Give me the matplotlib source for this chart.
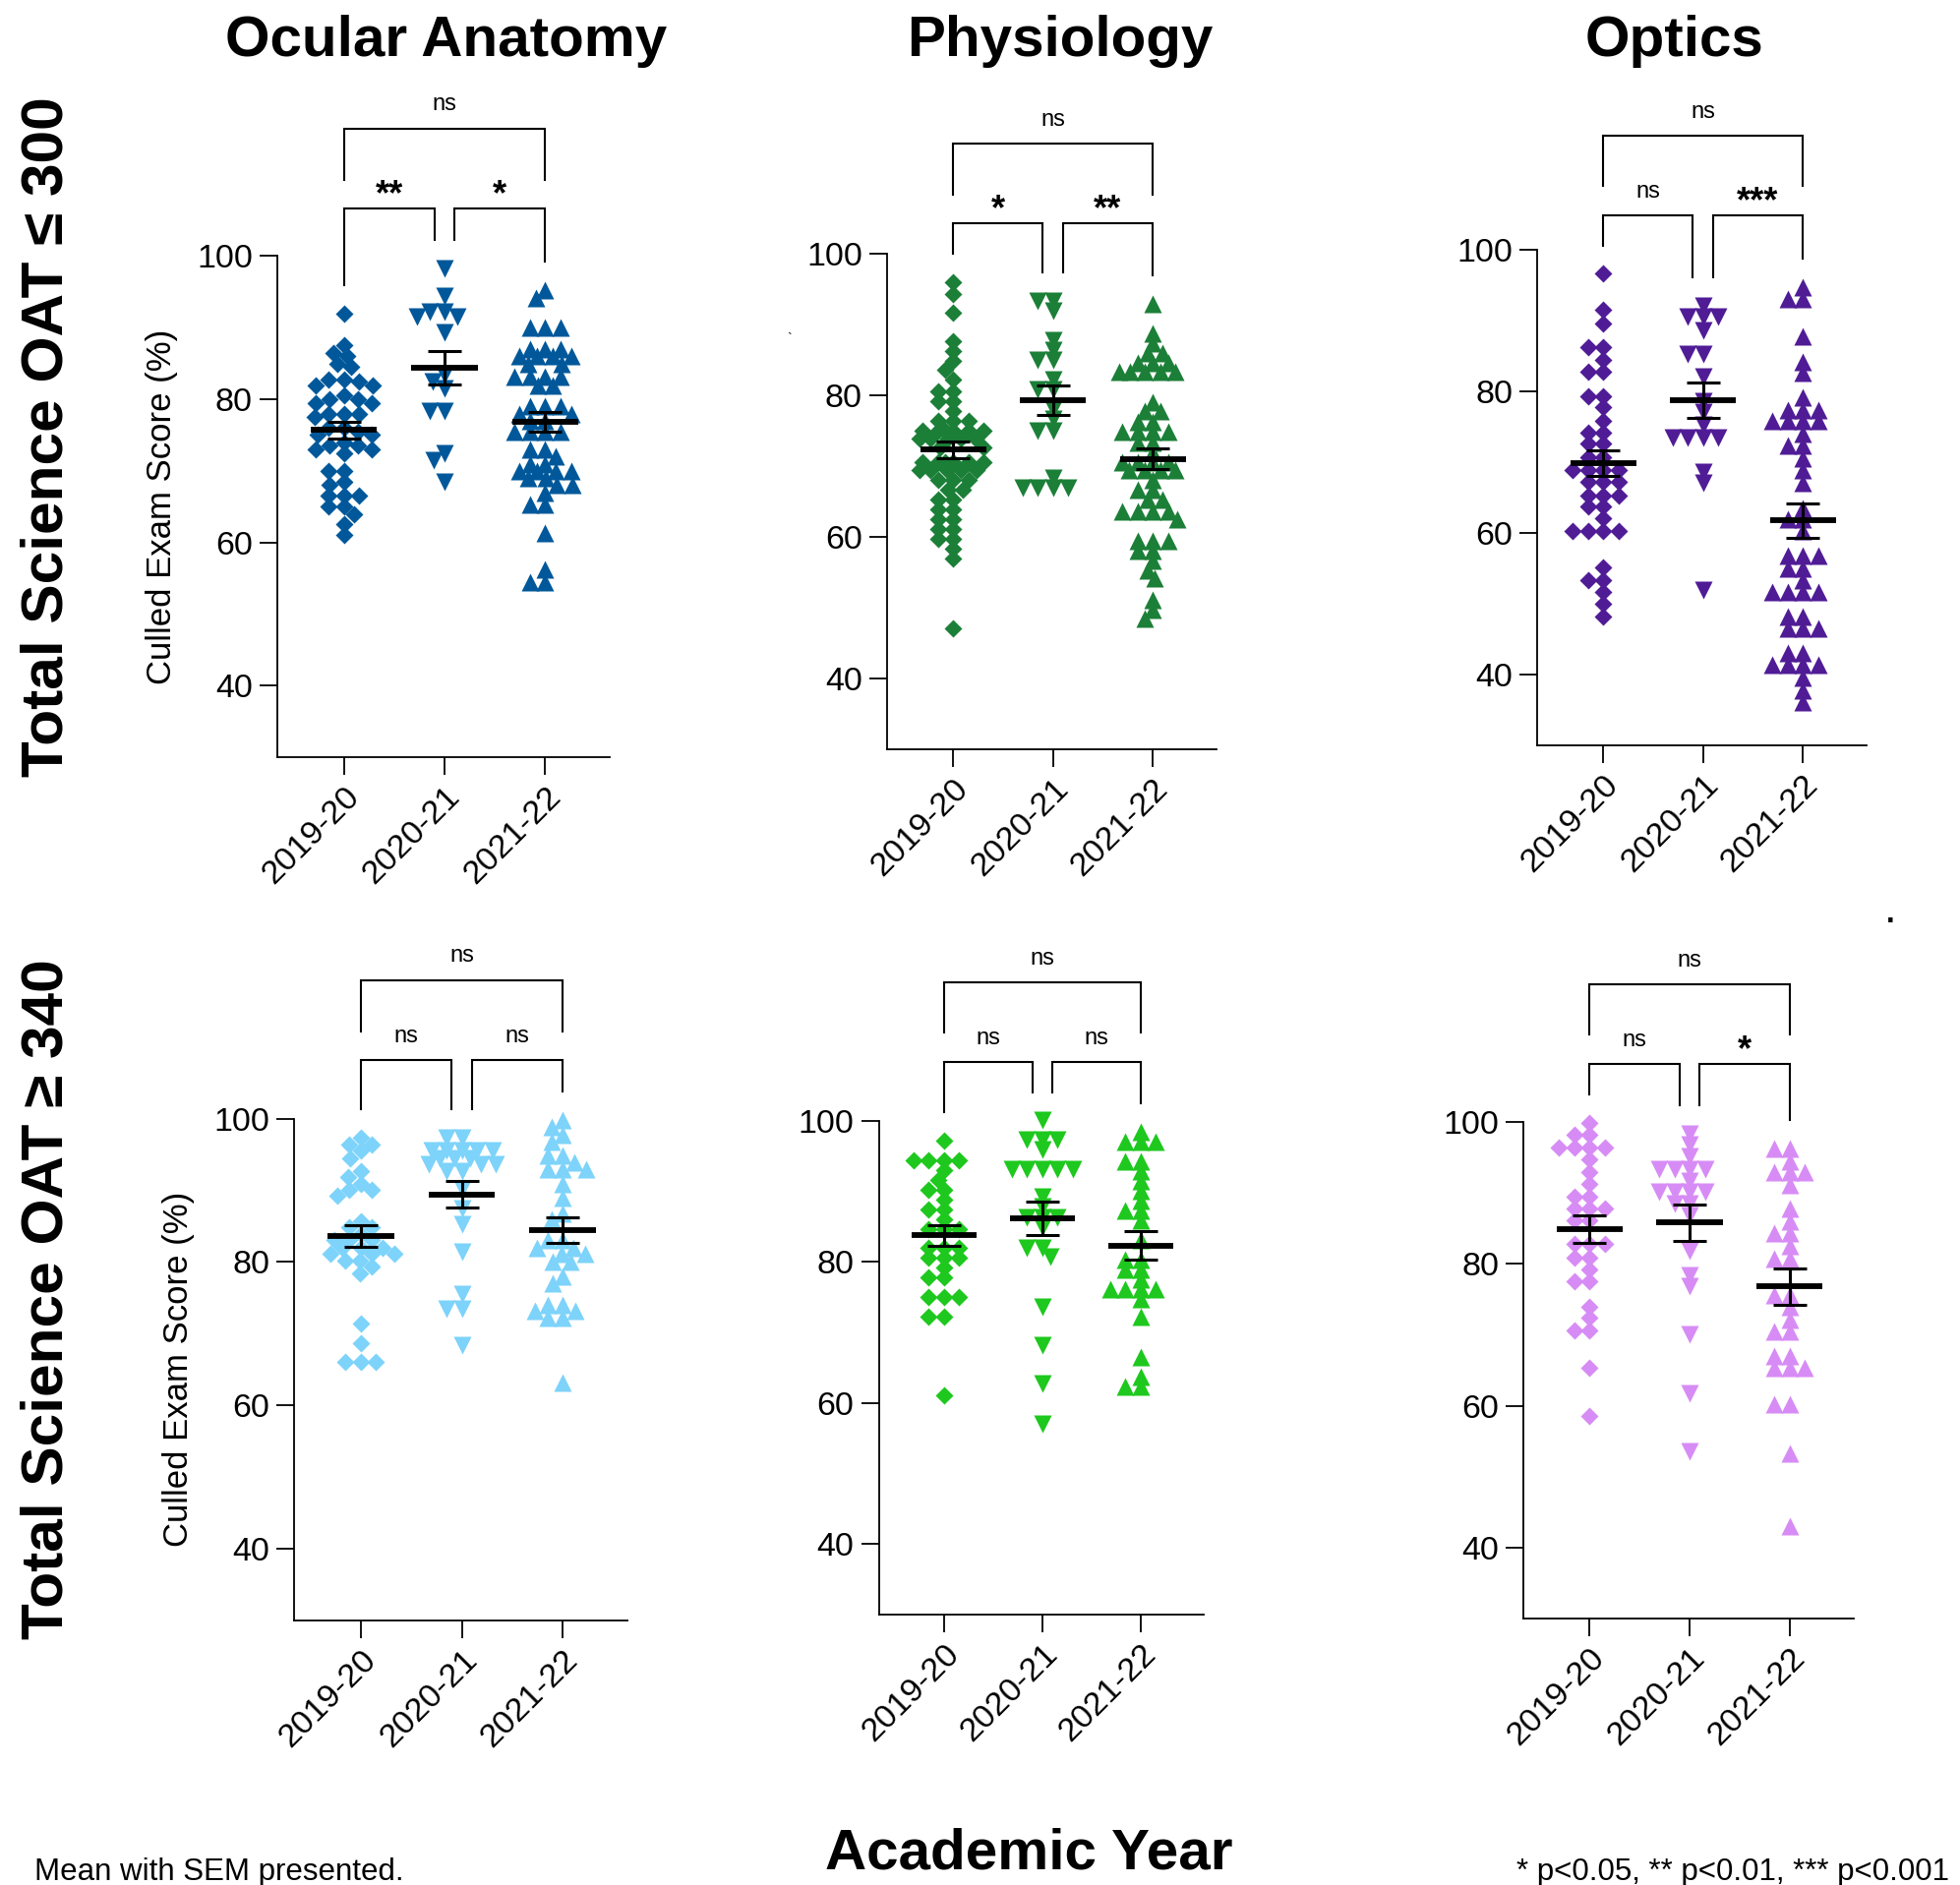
import numpy as np
import matplotlib.pyplot as plt

plt.rcParams['font.family'] = ['Liberation Sans', 'DejaVu Sans']

years = ["2019-20", "2020-21", "2021-22"]
subjects = ["Ocular Anatomy", "Physiology", "Optics"]
row_labels = ["Total Science OAT ≤ 300", "Total Science OAT ≥ 340"]

# OAT <= 300
anat_low_1920 = [92.0, 87.5, 86.5, 86.0, 85.0, 84.5, 82.7, 82.7, 82.5, 82.0, 82.0, 80.5, 80.0, 80.0,
                 79.5, 79.5, 78.0, 78.0, 78.0, 77.5, 76.0, 76.0, 75.5, 75.0, 75.0, 74.0, 73.5, 73.5,
                 73.0, 73.0, 72.5, 70.0, 70.0, 68.5, 68.0, 66.5, 66.5, 66.5, 65.0, 65.0, 64.0, 62.5, 61.0]
anat_low_2021 = [98.3, 94.4, 92.3, 92.3, 91.5, 91.5, 89.4, 83.4, 82.5, 81.5, 78.4, 78.4, 72.5, 71.5, 68.5]
anat_low_2122 = [95.3, 94.2] + [90.0]*3 + [87.0]*3 + [86.0]*4 + [85.0]*2 + [83.2]*4 + [82.0]*2 + \
                [79.0]*3 + [78.0]*2 + [77.0]*2 + [75.5]*4 + [73.0]*2 + [72.0] + [71.0]*2 + [70.0]*4 + \
                [69.0]*2 + [68.0]*2 + [67.0] + [65.3]*2 + [61.3, 56.3, 54.5, 54.5]

phys_low_1920 = [96.0, 94.3, 91.7, 87.6, 86.2, 84.8, 83.6, 82.2, 80.6, 80.6, 79.2, 79.2, 77.8] + \
                [76.4]*3 + [75.0]*6 + [73.9]*5 + [72.7]*2 + [70.6]*6 + [69.4]*5 + [68.0]*3 + \
                [66.7]*2 + [65.3]*2 + [63.9]*2 + [62.5]*2 + [61.1]*2 + [59.7]*2 + [58.3, 56.9, 47.1]
phys_low_2021 = [93.4, 93.4, 92.0, 87.8, 86.4, 85.0, 85.0, 82.2, 80.8, 80.8, 78.0, 76.6, 75.0, 75.0,
                 68.3, 66.9, 66.9, 66.9, 66.9]
phys_low_2122 = [92.9, 88.7, 87.3, 86.0, 86.0] + [84.6]*3 + [83.4]*5 + [79.0, 77.8, 77.8, 76.2, 76.2] + \
                [74.8]*4 + [73.4]*2 + [72.0] + [70.6]*4 + [69.4]*4 + [68.0] + [66.6]*2 + [65.3]*2 + \
                [63.6]*4 + [62.5] + [59.4]*3 + [58.0]*2 + [56.6, 55.3, 54.1, 51.1, 49.7, 48.5]

opt_low_1920 = [96.6, 91.5, 89.6, 86.3, 86.3, 84.4, 82.8, 82.8, 79.3, 79.3, 77.7, 75.8, 74.2, 74.2,
                72.6, 72.6, 70.7, 70.7] + [68.8]*4 + [67.2]*3 + [65.3]*3 + [63.7]*2 + [62.1] + \
               [60.2]*4 + [55.1, 53.3, 53.3, 51.6, 50.0, 48.1]
opt_low_2021 = [92.1, 90.5, 90.5, 90.5, 88.6, 85.3, 85.3, 82.1, 78.6, 77.0, 75.3, 73.5, 73.5, 73.5,
                73.5, 68.6, 67.0, 51.9]
opt_low_2122 = [94.7, 93.0, 93.0, 87.7, 84.2, 82.6, 79.1] + [77.4]*3 + [75.8]*4 + [74.0] + [72.3]*2 + \
               [70.5, 68.8, 67.0, 63.5] + [61.9]*2 + [60.2] + [56.7]*3 + [54.9]*2 + [53.3] + \
               [51.6]*4 + [48.1]*2 + [46.5]*3 + [43.0]*2 + [41.4]*4 + [39.5, 37.7, 36.0]

# OAT >= 340
anat_high_1920 = [97.3, 96.4, 96.4, 95.5, 94.5, 92.7, 91.9, 90.9, 90.0, 90.0, 89.2, 85.7, 84.8, 84.8,
                  83.9] + [83.0]*3 + [82.0]*3 + [81.1]*3 + [80.2]*2 + [79.3, 78.4, 71.4, 68.7] + [66.0]*3
anat_high_2021 = [97.3, 97.3] + [95.5]*5 + [94.5]*3 + [93.6]*3 + [92.7]*2 + \
                 [90.2, 87.5, 85.2, 81.4, 75.5, 73.4, 73.4, 68.4]
anat_high_2122 = [99.8, 98.9, 97.7, 96.8, 94.8, 94.8, 93.9, 93.0, 93.0, 93.0, 90.9, 88.9, 86.8, 85.9,
                  83.0, 83.0, 82.0, 82.0, 81.1, 81.1, 80.0, 80.0, 78.0, 77.0, 74.0, 74.0, 73.2, 73.2,
                  72.3, 72.3, 63.2]

phys_high_1920 = [97.2] + [94.4]*4 + [93.0, 91.7, 90.3, 90.3, 88.9, 87.5, 87.5, 86.1] + [84.7]*3 + \
                 [82.0]*3 + [80.6]*3 + [79.2, 77.8, 77.8] + [75.0]*3 + [72.2, 72.2, 61.1]
phys_high_2021 = [100.1] + [97.3]*3 + [95.9] + [93.1]*5 + [89.2, 87.8] + [86.4]*3 + \
                 [85.0, 82.0, 82.0, 80.8, 73.6, 68.2, 62.7, 57.1]
phys_high_2122 = [98.5] + [97.1]*3 + [94.3]*2 + [92.9, 91.5, 90.1, 88.7, 87.3, 87.3, 85.9, 83.1,
                  80.3, 80.3, 78.9, 78.9, 77.5] + [76.1]*4 + [74.7, 72.2, 66.6, 63.8, 62.4, 62.4]

opt_high_1920 = [99.9, 98.2, 98.2] + [96.4]*4 + [94.7, 93.0, 91.3, 89.5, 89.5] + [87.8]*3 + \
                [86.2]*2 + [82.8]*3 + [80.9]*2 + [79.2, 77.5, 77.5, 74.0, 72.4, 70.6, 70.6, 65.4, 58.6]
opt_high_2021 = [98.4, 96.8, 95.2] + [93.3]*4 + [91.7] + [90.1]*4 + [88.5]*2 + \
                [86.9, 81.8, 78.4, 76.8, 70.1, 61.8, 53.6]
opt_high_2122 = [96.3, 96.3, 94.5] + [92.9]*3 + [91.1, 87.8, 86.0, 84.3, 84.3, 82.5, 80.8, 80.8,
                 75.6, 75.6, 73.9, 72.2, 70.5, 70.5, 67.0, 67.0] + [65.3]*3 + [60.2]*2 + [53.3, 43.0]

groups = [
    [anat_low_1920, anat_low_2021, anat_low_2122],
    [phys_low_1920, phys_low_2021, phys_low_2122],
    [opt_low_1920, opt_low_2021, opt_low_2122],
    [anat_high_1920, anat_high_2021, anat_high_2122],
    [phys_high_1920, phys_high_2021, phys_high_2122],
    [opt_high_1920, opt_high_2021, opt_high_2122],
]
# significance: (1 vs 2, 2 vs 3, 1 vs 3)
signif = [
    ["**", "*", "ns"],
    ["*", "**", "ns"],
    ["ns", "***", "ns"],
    ["ns", "ns", "ns"],
    ["ns", "ns", "ns"],
    ["ns", "*", "ns"],
]
colors = ["#00589A", "#1C7F38", "#501C96", "#7DD3FA", "#1EC81E", "#D78CF5"]
markers = ["D", "v", "^"]
msizes = [9.4, 12.8, 12.8]

W, H = 1993, 1917
fig = plt.figure(figsize=(W / 100, H / 100), dpi=100)

# axes boxes in pixels: left, right, top(y=100), bottom(y=30)
boxes = [
    (282, 620, 260.5, 770),
    (902, 1237, 258, 762),
    (1563, 1898, 254, 757.5),
    (299, 638, 1137.5, 1648),
    (893.5, 1224, 1140, 1642),
    (1549, 1885, 1141, 1646),
]


def swarm(ypix, dx, dy, lim):
    # beeswarm with an elliptical footprint, width capped at +-lim pixels
    ys = np.asarray(ypix, dtype=float) * dx / dy
    d = dx
    order = np.argsort(-ys, kind="stable")
    xs = np.zeros(len(ys))
    placed = []
    for i in order:
        y = ys[i]
        near = [(xj, yj) for xj, yj in placed if abs(yj - y) < d]
        cands = [0.0]
        for xj, yj in near:
            w = np.sqrt(d * d - (yj - y) ** 2)
            cands += [xj - w, xj + w]
        cands = [c for c in cands if abs(c) <= lim]
        cands.sort(key=lambda c: (abs(c), c))
        found = False
        for c in cands:
            if all((c - xj) ** 2 + (y - yj) ** 2 >= d * d - 1e-6 for xj, yj in near):
                xs[i] = c
                found = True
                break
        if not found:
            grid = np.arange(-lim, lim + 0.5, 1.0)
            score = [min((c - xj) ** 2 + (y - yj) ** 2 for xj, yj in near) - 1e-3 * abs(c)
                     for c in grid]
            xs[i] = grid[int(np.argmax(score))]
        placed.append((xs[i], y))
    return xs


for k, (l, r, t, b) in enumerate(boxes):
    ax = fig.add_axes([l / W, 1 - b / H, (r - l) / W, (b - t) / H])
    ax.set_xlim(-0.66, 2.64)
    ax.set_ylim(30, 100)
    ppu_x = (r - l) / 3.3
    ppu_y = (b - t) / 70.0
    data = groups[k]
    for g, vals in enumerate(data):
        offs = swarm(np.asarray(vals) * ppu_y, 15.5, 10.0, 34.0) / ppu_x
        ax.plot(g + offs, vals, linestyle="none", marker=markers[g], ms=msizes[g],
                mfc=colors[k], mec="none", zorder=2, clip_on=False)
        m = np.mean(vals)
        sem = np.std(vals, ddof=1) / np.sqrt(len(vals))
        ax.plot([g - 0.33, g + 0.33], [m, m], color="black", lw=4.2, zorder=4,
                solid_capstyle="butt")
        ax.errorbar(g, m, yerr=sem, fmt="none", ecolor="black", elinewidth=2.2,
                    capsize=12, capthick=2.2, zorder=4)

    # significance brackets
    tops = [max(v) for v in data]
    lower = max(tops) + 8.3
    upper = lower + 11.2
    kw = dict(color="black", lw=1.5, clip_on=False, solid_joinstyle="miter")
    ax.plot([0, 0, 0.9, 0.9], [tops[0] + 4, lower, lower, tops[1] + 4], **kw)
    ax.plot([1.1, 1.1, 2, 2], [tops[1] + 4, lower, lower, tops[2] + 4], **kw)
    ax.plot([0, 0, 2, 2], [lower + 4.1, upper, upper, lower + 4.1], **kw)
    for (xc, yc), lab in zip([(0.45, lower + 3.4), (1.55, lower + 3.4), (1.0, upper + 3.4)],
                             signif[k]):
        if lab == "ns":
            ax.annotate(lab, (xc, yc), xytext=(0, -4.5), textcoords="offset points",
                        ha="center", va="baseline", fontsize=17, annotation_clip=False)
        else:
            ax.annotate(lab, (xc, yc), xytext=(0, -15), textcoords="offset points",
                        ha="center", va="baseline", fontsize=26, fontweight="bold",
                        annotation_clip=False)

    for s in ["top", "right"]:
        ax.spines[s].set_visible(False)
    for s in ["left", "bottom"]:
        ax.spines[s].set_linewidth(1.3)
    ax.set_yticks([40, 60, 80, 100])
    ax.set_xticks([0, 1, 2])
    ax.set_xticklabels(years, rotation=45, ha="right", rotation_mode="anchor")
    ax.tick_params(axis="both", direction="out", length=13, width=1.3, labelsize=24.5, pad=5)
    if k in (0, 3):
        ax.set_ylabel("Culled Exam Score (%)", fontsize=25, labelpad=14)

# column titles
for x, s in zip([454, 1078, 1702], subjects):
    fig.text(x / W, 1 - 42 / H, s, ha="center", va="center", fontsize=42, fontweight="bold")

# row labels
for y, s in zip([444, 1321], row_labels):
    fig.text(48 / W, 1 - y / H, s, ha="center", va="center", rotation=90,
             fontsize=43.5, fontweight="bold")

fig.text(1046 / W, 1 - 1885 / H, "Academic Year", ha="center", va="center",
         fontsize=42, fontweight="bold")
fig.text(35 / W, 1 - 1912 / H, "Mean with SEM presented.", ha="left", va="baseline", fontsize=22.5)
fig.text(1542 / W, 1 - 1912 / H, "* p<0.05, ** p<0.01, *** p<0.001", ha="left", va="baseline",
         fontsize=22.5)
fig.text(1922 / W, 1 - 938 / H, ".", ha="center", va="baseline", fontsize=22, fontweight="bold")
fig.text(803 / W, 1 - 345 / H, "`", ha="center", va="center", fontsize=10)

fig.savefig("out.png", dpi=100)
